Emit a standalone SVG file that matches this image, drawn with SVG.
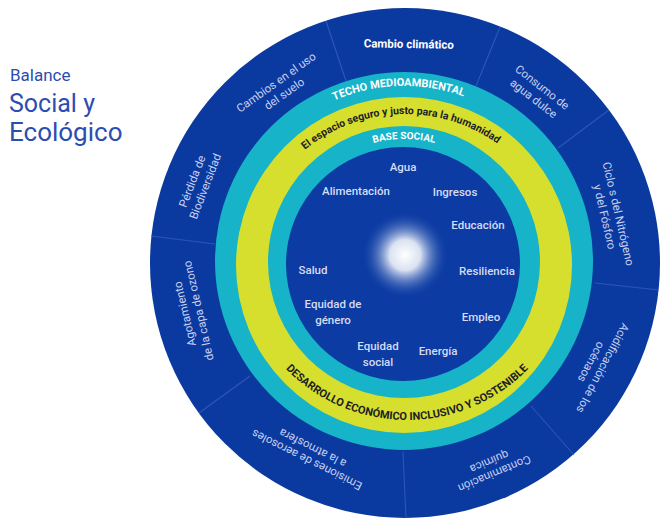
<svg xmlns="http://www.w3.org/2000/svg" width="662" height="525" viewBox="0 0 662 525">
<style>
.title{font-family:Roboto,"Liberation Sans",sans-serif;fill:#2c4daf;font-weight:400}
.seg{font-family:Roboto,"Liberation Sans",sans-serif;font-size:11.5px;fill:#c8d1f1;text-anchor:middle}
.inner{font-family:Roboto,"Liberation Sans",sans-serif;font-size:11.5px;font-weight:500;fill:#d6dcf3;text-anchor:middle}
.arcw{font-family:Roboto,"Liberation Sans",sans-serif;font-weight:700;fill:#ffffff}
.arcd{font-family:Roboto,"Liberation Sans",sans-serif;font-weight:700;fill:#1d1d22}
.div{stroke:#3a62c0;stroke-width:1.1;stroke-opacity:0.7}
</style>
<defs>
<radialGradient id="glow" cx="0.5" cy="0.5" r="0.5">
<stop offset="0" stop-color="#ffffff" stop-opacity="1"/>
<stop offset="0.35" stop-color="#ffffff" stop-opacity="0.85"/>
<stop offset="1" stop-color="#0c3ca3" stop-opacity="0"/>
</radialGradient>
<path id="pTecho" d="M228,262 A176,176 0 0 1 580,262"/>
<path id="pEspacio" d="M247,272 A158,158 0 0 1 563,272"/>
<path id="pBase" d="M281,262 A123,123 0 0 1 527,262"/>
<path id="pDesarrollo" d="M238,251 A169,169 0 0 0 576,251"/>
</defs>
<rect width="662" height="525" fill="#ffffff"/>
<g id="title">
<text class="title" x="10" y="81" font-size="17">Balance</text>
<text class="title" x="9" y="112" font-size="25">Social y</text>
<text class="title" x="9" y="141" font-size="26">Ecológico</text>
</g>
<g id="outer-ring">
<circle cx="405" cy="263" r="255" fill="#0a3aa0"/>
</g>
<g id="connectors">
<line class="div" x1="346" y1="81" x2="326" y2="21"/>
<line class="div" x1="476" y1="86" x2="500" y2="27"/>
<line class="div" x1="558" y1="148" x2="609" y2="110"/>
<line class="div" x1="595" y1="283" x2="659" y2="290"/>
<line class="div" x1="531" y1="406" x2="574" y2="455"/>
<line class="div" x1="403" y1="452" x2="406" y2="518"/>
<line class="div" x1="250" y1="376" x2="199" y2="413"/>
<line class="div" x1="215" y1="244" x2="151" y2="236"/>
</g>
<g id="seg-cambio-climatico" transform="rotate(1 405 263)">
<text class="seg" x="405" y="48" font-weight="700" font-size="12" style="fill:#ffffff">Cambio climático</text>
</g>
<g id="seg-agua-dulce" transform="rotate(38 405 263)">
<text class="seg" x="405" y="44">Consumo de</text>
<text class="seg" x="405" y="58">agua dulce</text>
</g>
<g id="seg-nitrogeno" transform="rotate(77 405 263)">
<text class="seg" x="405" y="48">Ciclo s del Nitrógeno</text>
<text class="seg" x="405" y="62">y del Fósforo</text>
</g>
<g id="seg-acidificacion" transform="rotate(118 405 263)">
<text class="seg" x="405" y="43">Acidificación de los</text>
<text class="seg" x="405" y="56">océnaos</text>
</g>
<g id="seg-contaminacion" transform="rotate(157 405 263)">
<text class="seg" x="405" y="38">Contaminación</text>
<text class="seg" x="405" y="51">química</text>
</g>
<g id="seg-aerosoles" transform="rotate(206.5 405 263)">
<text class="seg" x="405" y="47">Emisiones de aerosoles</text>
<text class="seg" x="405" y="60">a la atmosfera</text>
</g>
<g id="seg-ozono" transform="rotate(-103 405 263)">
<text class="seg" x="405" y="41">Agotamiento</text>
<text class="seg" x="405" y="55">de la capa de ozono</text>
</g>
<g id="seg-biodiversidad" transform="rotate(-69 405 263)">
<text class="seg" x="405" y="39">Pérdida de</text>
<text class="seg" x="405" y="53">Biodiversidad</text>
</g>
<g id="seg-suelo" transform="rotate(-35.5 405 263)">
<text class="seg" x="405" y="45">Cambios en el uso</text>
<text class="seg" x="405" y="59">del suelo</text>
</g>
<g id="ring-techo">
<circle cx="404" cy="261" r="189" fill="#17b3c9"/>
<text class="arcw" font-size="11"><textPath href="#pTecho" startOffset="49%" text-anchor="middle">TECHO MEDIOAMBIENTAL</textPath></text>
</g>
<g id="ring-espacio">
<circle cx="404" cy="265" r="168" fill="#d7df2e"/>
<text class="arcd" font-size="10.5"><textPath href="#pEspacio" startOffset="49%" text-anchor="middle">El espacio seguro y justo para la humanidad</textPath></text>
<text class="arcd" font-size="11"><textPath href="#pDesarrollo" startOffset="50%" text-anchor="middle">DESARROLLO ECONÓMICO INCLUSIVO Y SOSTENIBLE</textPath></text>
</g>
<g id="ring-base">
<circle cx="404" cy="262" r="136" fill="#17b3c9"/>
<text class="arcw" font-size="10"><textPath href="#pBase" startOffset="50%" text-anchor="middle">BASE SOCIAL</textPath></text>
</g>
<g id="core">
<circle cx="403" cy="264" r="117" fill="#0b3ba3"/>
<circle cx="405" cy="255" r="44" fill="url(#glow)"/>
</g>
<g id="n-agua"><text class="inner" x="403" y="171">Agua</text></g>
<g id="n-alimentacion"><text class="inner" x="356" y="195">Alimentación</text></g>
<g id="n-ingresos"><text class="inner" x="455" y="196">Ingresos</text></g>
<g id="n-educacion"><text class="inner" x="478" y="229">Educación</text></g>
<g id="n-salud"><text class="inner" x="313" y="274">Salud</text></g>
<g id="n-resiliencia"><text class="inner" x="487" y="275">Resiliencia</text></g>
<g id="n-genero"><text class="inner" x="333" y="308">Equidad de</text><text class="inner" x="333" y="324">género</text></g>
<g id="n-empleo"><text class="inner" x="481" y="321">Empleo</text></g>
<g id="n-social"><text class="inner" x="378" y="350">Equidad</text><text class="inner" x="378" y="366">social</text></g>
<g id="n-energia"><text class="inner" x="438" y="355">Energía</text></g>
</svg>
